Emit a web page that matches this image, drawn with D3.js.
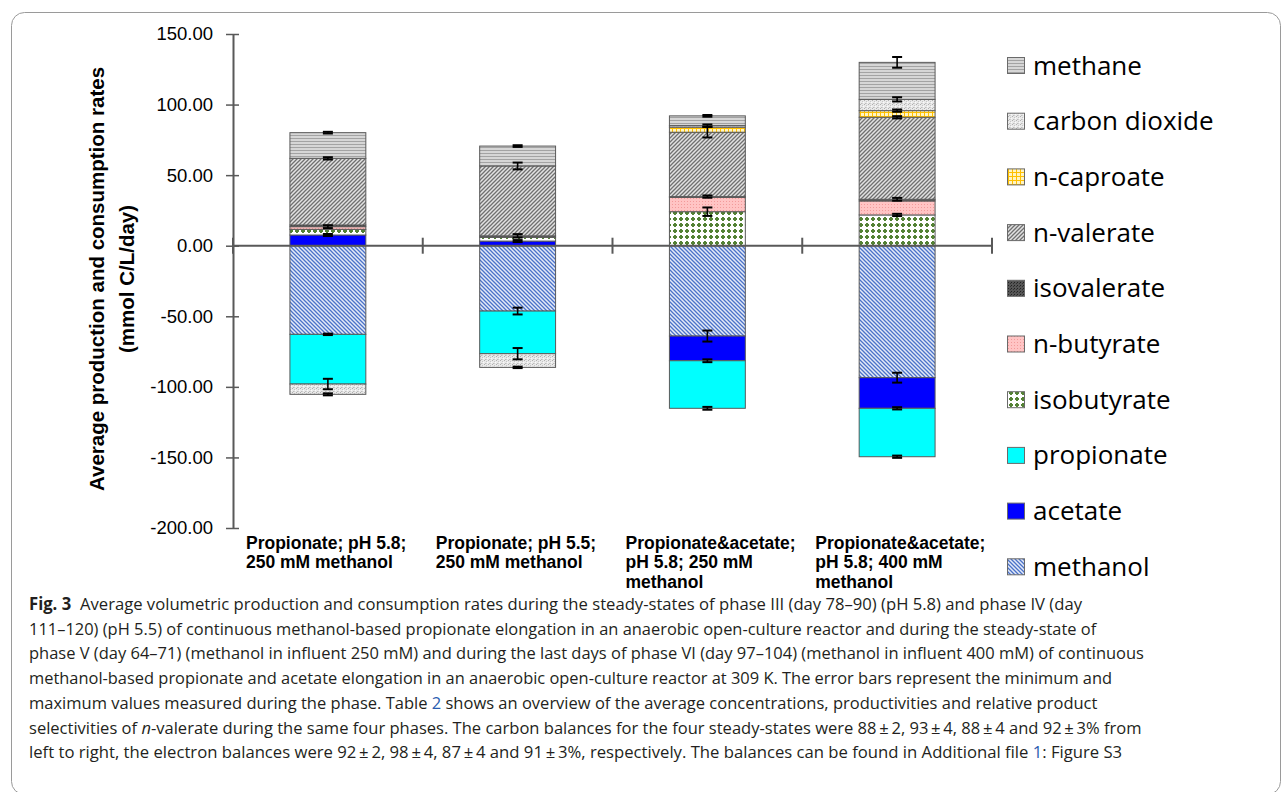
<!DOCTYPE html>
<html><head><meta charset="utf-8">
<script src="https://cdn.jsdelivr.net/npm/d3@7"></script>
<style>body{margin:0;background:#fff} svg{display:block}</style>
</head><body>
<svg id="c" width="1287" height="792"></svg>
<script>
// ---------- DATA ----------
const categories = ["P-5.8-250", "P-5.5-250", "PA-5.8-250", "PA-5.8-400"];
const categoryLabels = [
  ["Propionate; pH 5.8;", "250 mM methanol"],
  ["Propionate; pH 5.5;", "250 mM methanol"],
  ["Propionate&acetate;", "pH 5.8; 250 mM", "methanol"],
  ["Propionate&acetate;", "pH 5.8; 400 mM", "methanol"]
];
// stack order, bottom (closest to zero) to top
const seriesKeys = ["methanol","acetate","propionate","isobutyrate","n-butyrate","isovalerate","n-valerate","n-caproate","carbon dioxide","methane"];
const methanol      = [-62.8, -46.3, -64.0, -93.5];
const acetate       = [  7.6,   3.3, -17.5, -21.7];
const propionate    = [-35.2, -30.2, -33.7, -34.3];
const isobutyrate   = [  4.0,   2.7,  24.1,  21.8];
const nButyrate     = [  1.9,   0.0,  10.2,   9.9];
const isovalerate   = [  1.2,   1.0,   0.5,   1.2];
const nValerate     = [ 47.2,  49.5,  45.6,  58.1];
const nCaproate     = [  0.0,   0.0,   3.6,   4.7];
const carbonDioxide = [ -7.3,  -9.7,   1.1,   8.0];
const methane       = [ 18.2,  14.1,   6.9,  26.2];
// half-ranges of error bars (min/max), 0 = none
const errMethanol      = [0.5, 2.4, 3.9, 3.5];
const errAcetate       = [0.7, 0.7, 1.0, 0.8];
const errPropionate    = [3.7, 4.0, 1.0, 0.8];
const errIsobutyrate   = [0.0, 0.0, 3.0, 0.8];
const errNButyrate     = [1.0, 0.0, 0.0, 0.0];
const errIsovalerate   = [0.0, 1.2, 0.8, 1.0];
const errNValerate     = [0.8, 2.4, 3.7, 0.8];
const errNCaproate     = [0.0, 0.0, 0.0, 0.8];
const errCarbonDioxide = [0.7, 0.5, 0.8, 1.5];
const errMethane       = [0.6, 0.6, 0.6, 3.8];
const yTicks = [150, 100, 50, 0, -50, -100, -150, -200];
const yTitle = ["Average production and consumption rates", "(mmol C/L/day)"];

const valuesByKey = {"methanol":methanol,"acetate":acetate,"propionate":propionate,"isobutyrate":isobutyrate,
  "n-butyrate":nButyrate,"isovalerate":isovalerate,"n-valerate":nValerate,"n-caproate":nCaproate,
  "carbon dioxide":carbonDioxide,"methane":methane};
const errByKey = {"methanol":errMethanol,"acetate":errAcetate,"propionate":errPropionate,"isobutyrate":errIsobutyrate,
  "n-butyrate":errNButyrate,"isovalerate":errIsovalerate,"n-valerate":errNValerate,"n-caproate":errNCaproate,
  "carbon dioxide":errCarbonDioxide,"methane":errMethane};

// ---------- SETUP ----------
const svg = d3.select("#c");
const defs = svg.append("defs");
const axisCol = "#595959";

function pat(id, w, h, bg, draw){
  const p = defs.append("pattern").attr("id", id).attr("patternUnits","userSpaceOnUse")
    .attr("width", w).attr("height", h);
  p.append("rect").attr("width", w).attr("height", h).attr("fill", bg);
  draw(p);
}
pat("p-methane", 4, 3, "#d6d6d6", p => p.append("rect").attr("width",4).attr("height",1).attr("fill","#a3a3a3"));
pat("p-co2", 4, 4, "#e9e9e9", p => {
  [[0,0,"#b0b0b0"],[2,1,"#c6c6c6"],[1,3,"#bcbcbc"],[3,2,"#fafafa"],[2,3,"#d0d0d0"]].forEach(([x,y,c]) =>
    p.append("rect").attr("x",x).attr("y",y).attr("width",1).attr("height",1).attr("fill",c));
});
pat("p-caproate", 4, 4, "#fff4c4", p => {
  p.append("rect").attr("width",4).attr("height",1).attr("fill","#ffc000");
  p.append("rect").attr("width",1).attr("height",4).attr("fill","#ffc000");
});
pat("p-valerate", 4, 4, "#e2e2e2", p => p.append("path")
  .attr("d","M0,4L4,0M-1,1L1,-1M3,5L5,3").attr("stroke","#707070").attr("stroke-width",1.3));
pat("p-isovalerate", 3, 3, "#555555", p => {
  p.append("rect").attr("width",1).attr("height",1).attr("fill","#222");
  p.append("rect").attr("x",2).attr("y",1).attr("width",1).attr("height",1).attr("fill","#333");
});
pat("p-butyrate", 3, 3, "#ffc4c4", p => p.append("rect").attr("width",1).attr("height",1).attr("fill","#f29a9a"));
pat("p-isobutyrate", 6, 6, "#ffffff", p => {
  p.append("rect").attr("x",2).attr("y",1).attr("width",2).attr("height",4).attr("fill","#548235");
  p.append("rect").attr("x",1).attr("y",2).attr("width",4).attr("height",2).attr("fill","#548235");
});
pat("p-methanol", 4, 4, "#e4eaf7", p => p.append("path")
  .attr("d","M0,0L4,4M-1,3L1,5M3,-1L5,1").attr("stroke","#4a72c9").attr("stroke-width",1.3));

const fills = {"methane":"url(#p-methane)","carbon dioxide":"url(#p-co2)","n-caproate":"url(#p-caproate)",
  "n-valerate":"url(#p-valerate)","isovalerate":"url(#p-isovalerate)","n-butyrate":"url(#p-butyrate)",
  "isobutyrate":"url(#p-isobutyrate)","propionate":"#00ffff","acetate":"#0000ff","methanol":"url(#p-methanol)"};

// frame
svg.append("rect").attr("x",11.5).attr("y",12.5).attr("width",1269).attr("height",782)
  .attr("rx",13).attr("fill","none").attr("stroke","#9a9a9a").attr("stroke-width",1);

// scales
const y = d3.scaleLinear().domain([-200, 150]).range([528, 34]);
const x = d3.scaleBand().domain(categories).range([233, 992]).paddingInner(0.6).paddingOuter(0.3);

// rows & stack
const rows = categories.map((c, j) => {
  const r = {cat: c};
  seriesKeys.forEach(k => r[k] = valuesByKey[k][j]);
  return r;
});
const stacked = d3.stack().keys(seriesKeys).offset(d3.stackOffsetDiverging)(rows);

// bars
const gBars = svg.append("g");
stacked.forEach(s => {
  gBars.selectAll(null).data(s.filter(d => d[1] !== d[0])).join("rect")
    .attr("x", d => x(d.data.cat))
    .attr("width", x.bandwidth())
    .attr("y", d => y(d[1]))
    .attr("height", d => y(d[0]) - y(d[1]))
    .attr("fill", fills[s.key])
    .attr("stroke", "#5a5a5a").attr("stroke-width", 1);
});

// zero line with category ticks
const y0 = y(0);
svg.append("line").attr("x1", x.range()[0]).attr("x2", x.range()[1]).attr("y1", y0).attr("y2", y0)
  .attr("stroke", axisCol).attr("stroke-width", 2);
d3.range(categories.length + 1).forEach(i => {
  const xx = x.range()[0] + i * x.step();
  svg.append("line").attr("x1", xx).attr("x2", xx).attr("y1", y0 - 8).attr("y2", y0 + 8)
    .attr("stroke", axisCol).attr("stroke-width", 2);
});

// error bars
const gErr = svg.append("g");
stacked.forEach(s => {
  s.forEach((d, j) => {
    const e = errByKey[s.key][j];
    const v = valuesByKey[s.key][j];
    if (!e || v === 0) return;
    const edge = v > 0 ? d[1] : d[0];
    const cx = x(d.data.cat) + x.bandwidth() / 2;
    const ya = y(edge + e), yb = y(edge - e);
    gErr.append("line").attr("x1", cx).attr("x2", cx).attr("y1", ya).attr("y2", yb)
      .attr("stroke", "#000").attr("stroke-width", 1.6);
    [ya, yb].forEach(yy => gErr.append("line").attr("x1", cx - 5).attr("x2", cx + 5)
      .attr("y1", yy).attr("y2", yy).attr("stroke", "#000").attr("stroke-width", 2));
  });
});

// y axis
const yAxis = svg.append("g").attr("transform", "translate(233,0)")
  .call(d3.axisLeft(y).tickValues(yTicks).tickFormat(d => d.toFixed(2)).tickSize(7).tickSizeOuter(0).tickPadding(13));
yAxis.select(".domain").attr("stroke", axisCol).attr("stroke-width", 2);
yAxis.selectAll(".tick line").attr("x1", 6).attr("stroke", axisCol).attr("stroke-width", 1.5);
yAxis.selectAll(".tick text").attr("font-family", "Liberation Sans, Arial, sans-serif")
  .attr("font-size", 18.5).attr("fill", "#000");

// y title
yTitle.forEach((t, i) => {
  svg.append("text").attr("transform", `translate(${97 + i * 30},279) rotate(-90)`)
    .attr("text-anchor", "middle").attr("dy", "0.35em")
    .attr("font-family", "Liberation Sans, Arial, sans-serif").attr("font-weight", "bold")
    .attr("font-size", 20.5).attr("fill", "#000").text(t);
});

// category labels
categories.forEach((c, j) => {
  const x0 = x.range()[0] + j * x.step() + 13;
  categoryLabels[j].forEach((line, k) => {
    svg.append("text").attr("x", x0).attr("y", 548.5 + k * 19.5)
      .attr("font-family", "Liberation Sans, Arial, sans-serif").attr("font-weight", "bold")
      .attr("font-size", 17.5).attr("fill", "#000").text(line);
  });
});

// legend
const legendKeys = seriesKeys.slice().reverse();
legendKeys.forEach((k, i) => {
  const top = 57 + i * 55.7;
  svg.append("rect").attr("x", 1007.5).attr("y", top + 0.5).attr("width", 17).attr("height", 16)
    .attr("fill", fills[k]).attr("stroke", "#6a6a6a").attr("stroke-width", 1);
  svg.append("text").attr("x", 1033).attr("y", top + 17.5)
    .attr("font-family", "Open Sans, sans-serif").attr("font-size", 26).attr("fill", "#000").text(k);
});

// caption
const capLines = [
  [{t:"Fig. 3", b:true}, {t:"Average volumetric production and consumption rates during the steady-states of phase III (day 78\u201390) (pH 5.8) and phase IV (day", dx:9}],
  [{t:"111\u2013120) (pH 5.5) of continuous methanol-based propionate elongation in an anaerobic open-culture reactor and during the steady-state of"}],
  [{t:"phase V (day 64\u201371) (methanol in influent 250 mM) and during the last days of phase VI (day 97\u2013104) (methanol in influent 400 mM) of continuous"}],
  [{t:"methanol-based propionate and acetate elongation in an anaerobic open-culture reactor at 309 K. The error bars represent the minimum and"}],
  [{t:"maximum values measured during the phase. Table "}, {t:"2", c:"#2a5db0"}, {t:" shows an overview of the average concentrations, productivities and relative product"}],
  [{t:"selectivities of "}, {t:"n", i:true}, {t:"-valerate during the same four phases. The carbon balances for the four steady-states were 88\u2009\u00b1\u20092, 93\u2009\u00b1\u20094, 88\u2009\u00b1\u20094 and 92\u2009\u00b1\u20093% from"}],
  [{t:"left to right, the electron balances were 92\u2009\u00b1\u20092, 98\u2009\u00b1\u20094, 87\u2009\u00b1\u20094 and 91\u2009\u00b1\u20093%, respectively. The balances can be found in Additional file "}, {t:"1", c:"#2a5db0"}, {t:": Figure S3"}]
];
const capEnds = [1083, 1098, 1145, 1113, 1098, 1142, 1123];
const capX = 29;
capLines.forEach((segs, i) => {
  const g = svg.append("g");
  const t = g.append("text").attr("x", 0).attr("y", 0)
    .attr("font-family", "Open Sans, sans-serif").attr("font-size", 17).attr("fill", "#231f20")
    .attr("xml:space", "preserve");
  segs.forEach(s => {
    const ts = t.append("tspan").text(s.t);
    if (s.b) ts.attr("font-weight", "bold");
    if (s.i) ts.attr("font-style", "italic");
    if (s.c) ts.attr("fill", s.c);
    if (s.dx) ts.attr("dx", s.dx);
  });
  const w = t.node().getBBox().width;
  const sx = (capEnds[i] - capX) / w;
  g.attr("transform", `translate(${capX},${610 + i * 24.7}) scale(${sx},1)`);
});
</script>
</body></html>
